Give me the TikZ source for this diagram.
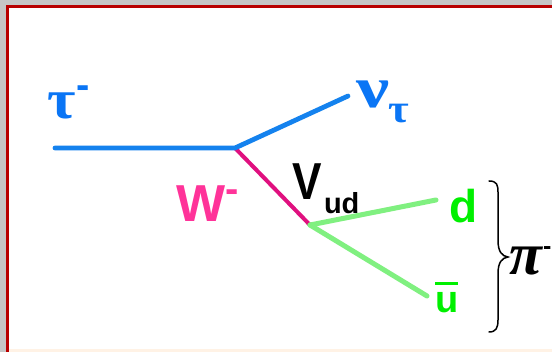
\documentclass[tikz,border=0pt]{standalone}
\usepackage{graphicx}
\usepackage{fontspec}
\setmainfont{Liberation Sans}
\newfontfamily\symf{Liberation Serif}
\definecolor{leptblue}{HTML}{0A75F5}
\definecolor{lineblue}{HTML}{1482EE}
\definecolor{wpink}{HTML}{FF3399}
\definecolor{wline}{HTML}{E0107F}
\definecolor{qgreen}{HTML}{00F000}
\definecolor{qline}{HTML}{80F080}
\definecolor{frame}{HTML}{B80000}
\begin{document}
\begin{tikzpicture}[x=1pt,y=-1pt,
  lbl/.style={inner sep=0pt,outer sep=0pt,anchor=base west},
  prop/.style={line width=4.8pt,line cap=round},
  blueprop/.style={prop,lineblue},
  pinkprop/.style={prop,wline,line width=4pt},
  greenprop/.style={prop,qline,line width=5pt}]
\useasboundingbox (0,0) rectangle (552,352);
\clip (0,0) rectangle (552,352);
\fill[gray!45] (0,0) rectangle (552,352);
\fill[white] (8,7) rectangle (552,352);
\draw[frame,line width=3pt] (7.5,352) -- (7.5,6.5) -- (552,6.5);
\fill[orange!10] (9,349.5) rectangle (552,352);
\coordinate (a) at (55,148);
\coordinate (v1) at (235,148);
\coordinate (nu) at (348,96);
\coordinate (v2) at (310,225);
\coordinate (dq) at (436,200);
\coordinate (uq) at (427,296);
\draw[pinkprop] (v1) -- (v2);
\draw[blueprop] (a) -- (v1) -- (nu);
\draw[greenprop] (v2) -- (dq);
\draw[greenprop] (v2) -- (uq);
\node[lbl,text=leptblue,font=\symf\bfseries\fontsize{56}{56}\selectfont] (tau) at (47,119) {\scalebox{1.1}[1]{τ}};
\node[lbl,text=leptblue,font=\bfseries\fontsize{40}{40}\selectfont] (taum) at (76.5,98.5) {-};
\node[lbl,text=leptblue,font=\symf\bfseries\fontsize{58}{58}\selectfont] (nul) at (356,108) {\scalebox{1.28}[1]{ν}};
\node[lbl,text=leptblue,font=\symf\bfseries\fontsize{40}{40}\selectfont] (nus) at (388,123) {\scalebox{1.12}[1]{τ}};
\node[lbl,text=wpink,font=\bfseries\fontsize{52}{52}\selectfont] (w) at (176,222) {W};
\node[lbl,text=wpink,font=\bfseries\fontsize{40}{40}\selectfont] (wm) at (225.5,203) {-};
\node[lbl,text=black,font=\bfseries\fontsize{52}{52}\selectfont] (V) at (292,200) {\scalebox{.85}[1]{V}};
\node[lbl,text=black,font=\bfseries\fontsize{29}{29}\selectfont] (ud) at (324,214) {ud};
\node[lbl,text=qgreen,font=\bfseries\fontsize{46}{46}\selectfont] (d) at (449,223) {d};
\node[lbl,text=qgreen,font=\bfseries\fontsize{38}{38}\selectfont] (u) at (435,313) {u};
\draw[qgreen,line width=3pt] (u.west |- 0,284) -- (u.east |- 0,284);
\node[lbl,text=black,font=\symf\bfseries\itshape\fontsize{60}{60}\selectfont] (pi) at (509,275) {π};
\node[lbl,text=black,font=\bfseries\fontsize{25}{25}\selectfont] (pim) at (543.2,255) {-};
\draw[black,line width=1.5pt,line cap=round] (489,181) .. controls (497,181) and (498,185) .. (498,192) -- (498,240) .. controls (498,252) and (502,256) .. (508,257) .. controls (502,258) and (498,262) .. (498,274) -- (498,320) .. controls (498,328) and (496,332) .. (489,332);
\end{tikzpicture}
\end{document}
